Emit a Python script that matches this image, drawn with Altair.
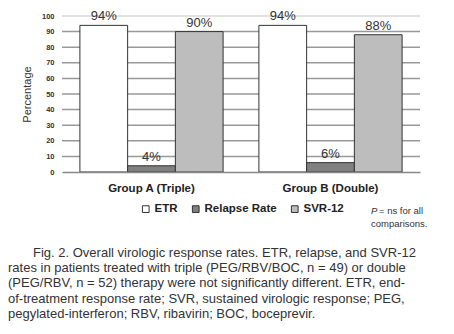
import altair as alt
import pandas as pd

groups = ["Group A (Triple)", "Group B (Double)"]
measures = ["ETR", "Relapse Rate", "SVR-12"]
group_a = [94, 4, 90]
group_b = [94, 6, 88]
labels_a = ["94%", "4%", "90%"]
labels_b = ["94%", "6%", "88%"]
fills = ["#ffffff", "#808080", "#bdbdbd"]
y_ticks = [0, 10, 20, 30, 40, 50, 60, 70, 80, 90, 100]
caption_first = "Fig. 2. Overall virologic response rates. ETR, relapse, and SVR-12"
caption_rest = [
    "rates in patients treated with triple (PEG/RBV/BOC, n = 49) or double",
    "(PEG/RBV, n = 52) therapy were not significantly different. ETR, end-",
    "of-treatment response rate; SVR, sustained virologic response; PEG,",
    "pegylated-interferon; RBV, ribavirin; BOC, boceprevir.",
]

rows = []
for g, vals, labs in [(groups[0], group_a, labels_a), (groups[1], group_b, labels_b)]:
    for m, v, l in zip(measures, vals, labs):
        rows.append({"group": g, "measure": m, "value": v, "label": l})
df = pd.DataFrame(rows)
grid_df = pd.DataFrame({"tick": y_ticks[1:-1]})
top_df = pd.DataFrame({"tick": y_ticks[-1:]})

FONT = "Liberation Sans"

x = alt.X("group:N", sort=groups, title=None,
          scale=alt.Scale(paddingInner=0.2, paddingOuter=0.1),
          axis=alt.Axis(labelAngle=0, ticks=False, labelPadding=10, labelFontSize=11.5,
                        labelFontWeight="bold", labelColor="#222", labelFont=FONT,
                        domainColor="#888", domainWidth=1.5, grid=False, zindex=2))
xo = alt.XOffset("measure:N", sort=measures, scale=alt.Scale(paddingInner=0, paddingOuter=0))
y_axis = alt.Axis(values=y_ticks, labelOverlap=False, ticks=False,
                  domain=False, labelFontSize=7.5, grid=False,
                  labelFontWeight="bold", labelColor="#333", labelPadding=8,
                  titleFontSize=11,
                  titleFontWeight="normal", titleColor="#333", titleFont=FONT,
                  titlePadding=9, labelFont=FONT)
y_scale = alt.Scale(domain=[0, 100])

grid = alt.Chart(grid_df).mark_rule(color="#999999", strokeWidth=1.5).encode(
    y=alt.Y("tick:Q", scale=y_scale, axis=y_axis, title="Percentage")
)
top = alt.Chart(top_df).mark_rule(color="#c4c4c4", strokeWidth=1.2).encode(
    y=alt.Y("tick:Q", scale=y_scale, axis=y_axis, title="Percentage")
)

bars = alt.Chart(df).mark_bar(stroke="#333", strokeWidth=1).encode(
    x=x, xOffset=xo, y=alt.Y("value:Q", scale=y_scale, axis=y_axis, title="Percentage"),
    fill=alt.Fill("measure:N", sort=measures,
                  scale=alt.Scale(domain=measures, range=fills),
                  legend=alt.Legend(title=None, orient="none", legendX=78, legendY=187,
                                    direction="horizontal", symbolType="square",
                                    symbolSize=45, symbolStrokeColor="#333",
                                    symbolStrokeWidth=1, labelFontSize=11.5,
                                    labelFontWeight="bold", labelFont=FONT,
                                    labelColor="#222", columnPadding=12, labelOffset=3)),
)

text = alt.Chart(df).mark_text(dy=-9, fontSize=13, font=FONT, color="#333").encode(
    x=alt.X("group:N", sort=groups), xOffset=xo,
    y=alt.Y("value:Q", scale=y_scale, axis=y_axis, title="Percentage"), text="label:N"
)

one = alt.Data(values=[{"a": 1}])
pnote1 = alt.Chart(one).mark_text(align="left", baseline="middle", fontSize=9.5,
                                  font=FONT, color="#333", fontStyle="italic").encode(
    x=alt.value(309), y=alt.value(195), text=alt.value("P"))
pnote2 = alt.Chart(one).mark_text(align="left", baseline="middle", fontSize=9.5,
                                  font=FONT, color="#333").encode(
    x=alt.value(317), y=alt.value(195), text=alt.value("= ns for all"))
pnote3 = alt.Chart(one).mark_text(align="left", baseline="middle", fontSize=9.5,
                                  font=FONT, color="#333").encode(
    x=alt.value(309), y=alt.value(208), text=alt.value("comparisons."))

cap1 = alt.Chart(one).mark_text(align="left", baseline="middle", fontSize=13,
                                font=FONT, color="#333").encode(
    x=alt.value(-29), y=alt.value(237), text=alt.value(caption_first))
cap2 = alt.Chart(one).mark_text(align="left", baseline="middle", fontSize=13,
                                font=FONT, color="#333", lineHeight=15.3).encode(
    x=alt.value(-54), y=alt.value(252), text=alt.value(caption_rest))

chart = alt.layer(top, grid, bars, text, pnote1, pnote2, pnote3, cap1, cap2).properties(
    width=358, height=156,
    autosize=alt.AutoSizeParams(type="none"),
    padding={"left": 62, "top": 16, "right": 34, "bottom": 162},
    background="white",
).configure_view(stroke=None)

chart.save("out.html", embed_options={"renderer": "svg", "actions": False})
